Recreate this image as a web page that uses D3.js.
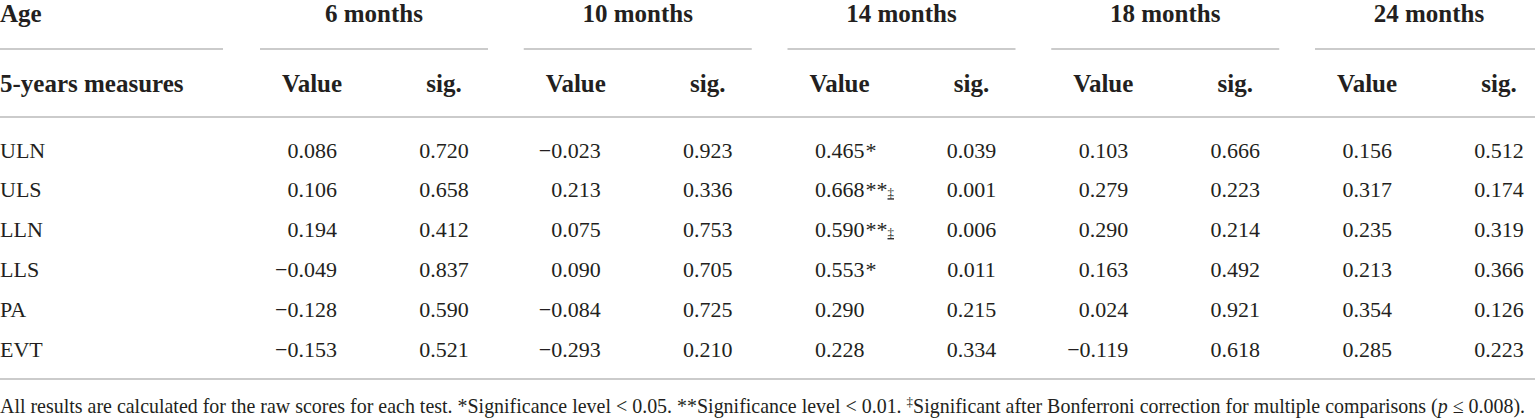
<!DOCTYPE html>
<html>
<head>
<meta charset="utf-8">
<script src="https://cdn.jsdelivr.net/npm/d3@7"></script>
<style>
  html, body { margin: 0; padding: 0; background: #fff; }
  svg { display: block; }
</style>
</head>
<body>
<div id="table"></div>
<script>
// table data
const measures = ["ULN", "ULS", "LLN", "LLS", "PA", "EVT"];
const ages = ["6 months", "10 months", "14 months", "18 months", "24 months"];

const values6 = [0.086, 0.106, 0.194, -0.049, -0.128, -0.153];
const sig6 = [0.720, 0.658, 0.412, 0.837, 0.590, 0.521];
const values10 = [-0.023, 0.213, 0.075, 0.090, -0.084, -0.293];
const sig10 = [0.923, 0.336, 0.753, 0.705, 0.725, 0.210];
const values14 = [0.465, 0.668, 0.590, 0.553, 0.290, 0.228];
const sig14 = [0.039, 0.001, 0.006, 0.011, 0.215, 0.334];
const values18 = [0.103, 0.279, 0.290, 0.163, 0.024, -0.119];
const sig18 = [0.666, 0.223, 0.214, 0.492, 0.921, 0.618];
const values24 = [0.156, 0.317, 0.235, 0.213, 0.354, 0.285];
const sig24 = [0.512, 0.174, 0.319, 0.366, 0.126, 0.223];

// significance marks (14 months column only)
const stars14 = ["*", "**", "**", "*", "", ""];
const daggers14 = ["", "‡", "‡", "", "", ""];

const allValues = [values6, values10, values14, values18, values24];
const allSig = [sig6, sig10, sig14, sig18, sig24];

const width = 1535;
const height = 420;
const serif = "'Liberation Serif', 'DejaVu Serif', serif";
const ink = "#231f20";
const rule = "#cbcbcb";

const svg = d3.select("#table").append("svg")
  .attr("width", width)
  .attr("height", height);

// scales: group start x, row baseline y
const xGroup = d3.scaleLinear().domain([0, ages.length - 1]).range([260, 1315]);
const groupW = 228;
const yRow = d3.scaleLinear().domain([0, measures.length - 1]).range([157.5, 356.5]);
const fmt = d3.format(".3f");

// header line 1
const head = svg.append("g")
  .style("font-family", serif)
  .style("font-weight", "bold")
  .style("font-size", "25px")
  .attr("fill", ink);

head.append("text").attr("x", 0).attr("y", 22).text("Age");
head.selectAll(".age").data(ages).join("text")
  .attr("x", (d, i) => xGroup(i) + groupW / 2)
  .attr("y", 22)
  .attr("text-anchor", "middle")
  .text(d => d);

// short rules under header line 1
svg.append("line").attr("x1", 0).attr("x2", 223).attr("y1", 49).attr("y2", 49)
  .attr("stroke", rule).attr("stroke-width", 2);
svg.selectAll(".seg").data(ages).join("line")
  .attr("x1", (d, i) => xGroup(i))
  .attr("x2", (d, i) => Math.min(width, xGroup(i) + groupW))
  .attr("y1", 49).attr("y2", 49)
  .attr("stroke", rule).attr("stroke-width", 2);

// header line 2
head.append("text").attr("x", 0).attr("y", 92).text("5-years measures");
ages.forEach((a, i) => {
  head.append("text").attr("x", xGroup(i) + 52).attr("y", 92)
    .attr("text-anchor", "middle").text("Value");
  head.append("text").attr("x", xGroup(i) + 184).attr("y", 92)
    .attr("text-anchor", "middle").text("sig.");
});

svg.append("line").attr("x1", 0).attr("x2", width).attr("y1", 117).attr("y2", 117)
  .attr("stroke", rule).attr("stroke-width", 2);

// body
const body = svg.append("g")
  .style("font-family", serif)
  .style("font-size", "22px")
  .attr("fill", ink);

body.selectAll(".measure").data(measures).join("text")
  .attr("x", 0)
  .attr("y", (d, i) => yRow(i))
  .text(d => d);

allValues.forEach((vals, g) => {
  body.selectAll(null).data(vals).join("text")
    .attr("x", xGroup(g) + 77)
    .attr("y", (d, i) => yRow(i))
    .attr("text-anchor", "end")
    .text(d => fmt(d));

  body.selectAll(null).data(allSig[g]).join("text")
    .attr("x", xGroup(g) + 184)
    .attr("y", (d, i) => yRow(i))
    .attr("text-anchor", "middle")
    .text(d => fmt(d));
});

// stars and daggers after the 14 month values
const marks = body.selectAll(".mark").data(measures).join("text")
  .attr("x", xGroup(2) + 78)
  .attr("y", (d, i) => yRow(i));
marks.append("tspan").text((d, i) => stars14[i]);
marks.append("tspan").style("font-size", "13px")
  .style("text-decoration", "underline")
  .text((d, i) => daggers14[i]);

svg.append("line").attr("x1", 0).attr("x2", width).attr("y1", 379).attr("y2", 379)
  .attr("stroke", rule).attr("stroke-width", 2);

// footnote
const note = svg.append("text")
  .attr("x", 0)
  .attr("y", 413)
  .style("font-family", serif)
  .style("font-size", "20px")
  .attr("fill", ink);
note.append("tspan").text("All results are calculated for the raw scores for each test. *Significance level < 0.05. **Significance level < 0.01. ");
note.append("tspan").attr("dy", -7).style("font-size", "13px").text("‡");
note.append("tspan").attr("dy", 7).text("Significant after Bonferroni correction for multiple comparisons (");
note.append("tspan").style("font-style", "italic").text("p");
note.append("tspan").text(" ≤ 0.008).");

const noteW = note.node().getComputedTextLength();
note.attr("transform", `scale(${1526 / noteW},1)`);
</script>
</body>
</html>
